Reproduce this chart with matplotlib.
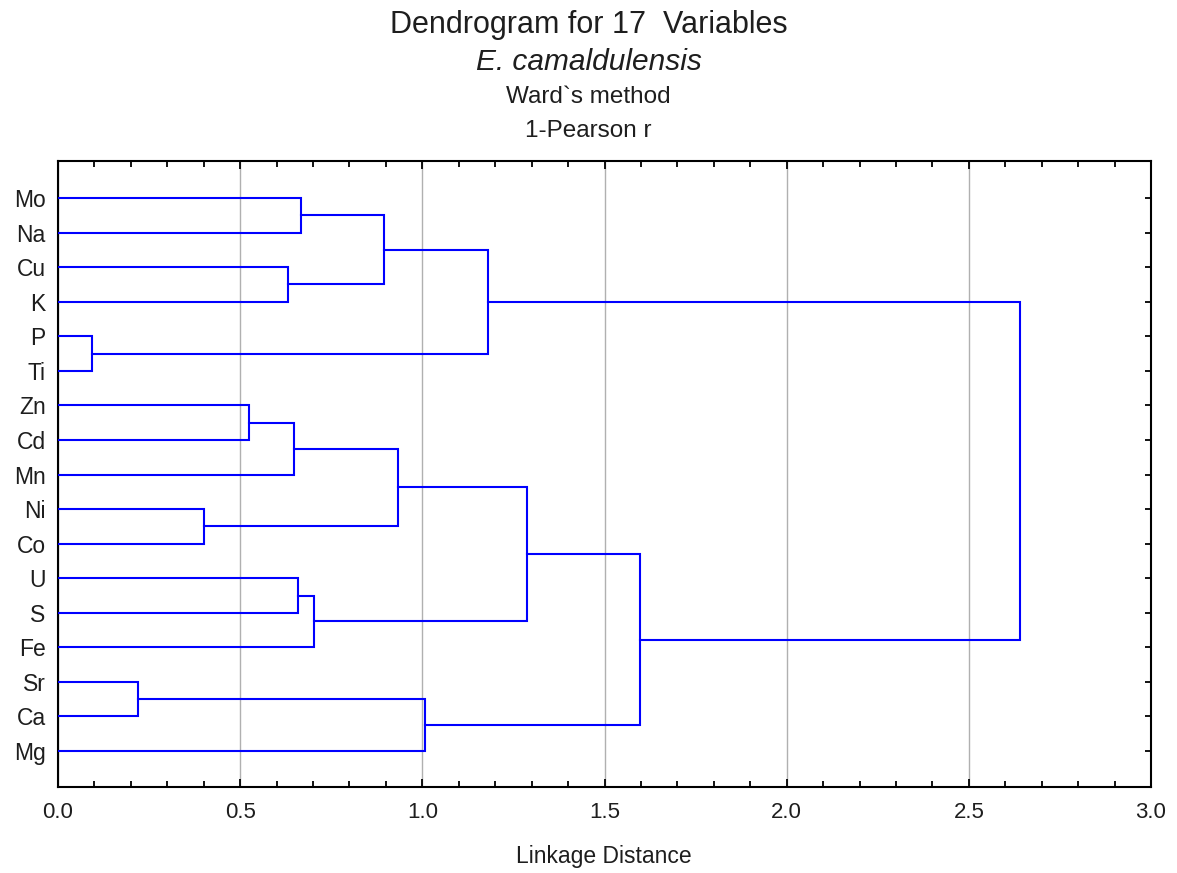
import matplotlib
matplotlib.use("Agg")
import matplotlib.pyplot as plt
from matplotlib.ticker import MultipleLocator

plt.rcParams['font.family'] = ['Liberation Sans', 'DejaVu Sans']

leaves = ["Mo", "Na", "Cu", "K", "P", "Ti", "Zn", "Cd", "Mn", "Ni", "Co",
          "U", "S", "Fe", "Sr", "Ca", "Mg"]
# merges: (left cluster, right cluster, linkage distance); clusters named by leaf or merge index "#k"
merges = [
    ("Mo", "Na", 0.666),
    ("Cu", "K", 0.630),
    ("#0", "#1", 0.896),
    ("P", "Ti", 0.093),
    ("#2", "#3", 1.181),
    ("Zn", "Cd", 0.523),
    ("#5", "Mn", 0.647),
    ("Ni", "Co", 0.400),
    ("#6", "#7", 0.934),
    ("U", "S", 0.660),
    ("#9", "Fe", 0.704),
    ("#8", "#10", 1.288),
    ("Sr", "Ca", 0.219),
    ("#12", "Mg", 1.008),
    ("#11", "#13", 1.597),
    ("#4", "#14", 2.641),
]

fig = plt.figure(figsize=(11.77, 8.73), dpi=100)
ax = fig.add_axes([58/1177, 1 - 787/873, (1151-58)/1177, (787-161)/873])

pos = {name: (0.0, i) for i, name in enumerate(leaves)}
col = (0, 0, 1)
for k, (a, b, d) in enumerate(merges):
    xa, ya = pos[a]
    xb, yb = pos[b]
    ax.plot([xa, d, d, xb], [ya, ya, yb, yb], color=col, lw=1.5,
            solid_joinstyle='miter', zorder=3)
    pos["#%d" % k] = (d, (ya + yb) / 2)

tc = '#1e1e1e'
ax.set_xlim(0, 3.0)
ax.set_ylim(len(leaves) - 1 + 1.04, -1.07)
ax.set_yticks(range(len(leaves)))
ax.set_yticklabels(leaves, fontsize=16.5)
ax.xaxis.set_major_locator(MultipleLocator(0.5))
ax.xaxis.set_minor_locator(MultipleLocator(0.1))
ax.set_xticklabels(["%.1f" % v for v in ax.get_xticks()], fontsize=16)
ax.tick_params(axis='both', which='both', direction='in', top=True, right=True,
               width=1.3, color='black', labelcolor=tc)
ax.tick_params(axis='x', which='major', length=6, pad=11)
ax.tick_params(axis='x', which='minor', length=4)
ax.tick_params(axis='y', which='major', length=4, pad=9)
ax.grid(axis='x', which='major', color='#b0b0b0', lw=1.0, zorder=1)
for s in ax.spines.values():
    s.set_linewidth(1.5)

fig.text(604/1177, 1 - 857/873, "Linkage Distance", ha='center', va='center',
         fontsize=16.5, color=tc)

fig.text(0.5, 1 - 25/873, "Dendrogram for 17  Variables", ha='center', va='center',
         fontsize=22, color=tc)
fig.text(0.5, 1 - 62/873, "E. camaldulensis", ha='center', va='center',
         fontsize=21.5, style='italic', color=tc)
fig.text(0.5, 1 - 97/873, "Ward`s method", ha='center', va='center',
         fontsize=17.5, color=tc)
fig.text(0.5, 1 - 131/873, "1-Pearson r", ha='center', va='center',
         fontsize=17.5, color=tc)

fig.savefig("out.png", dpi=100)
